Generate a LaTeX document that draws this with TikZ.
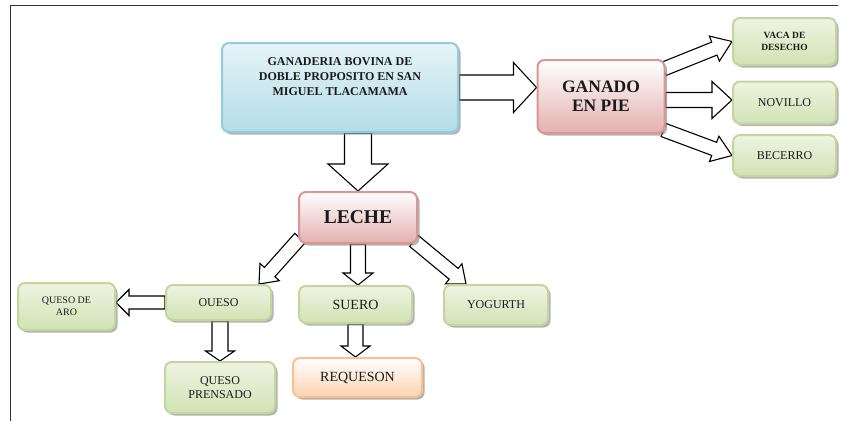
\documentclass[tikz,border=0pt]{standalone}
\usepackage{fontspec}
\setmainfont{Liberation Serif}
\usetikzlibrary{calc,shadows,backgrounds}

\definecolor{blueborder}{HTML}{93CDDD}
\definecolor{bluetop}{HTML}{E6F4F8}
\definecolor{bluebot}{HTML}{B4DCE7}
\definecolor{pinkborder}{HTML}{D99694}
\definecolor{pinktop}{HTML}{FFFFFF}
\definecolor{pinkbot}{HTML}{E3B0AF}
\definecolor{greenborder}{HTML}{C3D69B}
\definecolor{greentop}{HTML}{EEF4E2}
\definecolor{greenbot}{HTML}{D2E2B4}
\definecolor{orangeborder}{HTML}{FAC090}
\definecolor{orangetop}{HTML}{FFFFFF}
\definecolor{orangebot}{HTML}{FCD3B0}
\definecolor{textcol}{HTML}{1A1A1A}
\definecolor{framecol}{HTML}{333333}

\newcommand\blockarr[5]{% tail, tip, shaft half width, head half width, head length
  \path ($(#2)!#5!(#1)$) coordinate (bah);
  \draw[blockarrow] ($(#1)!#3!90:(#2)$) -- ($(bah)!#3!90:(#2)$) -- ($(bah)!#4!90:(#2)$)
     -- (#2) -- ($(bah)!#4!-90:(#2)$) -- ($(bah)!#3!-90:(#2)$) -- ($(#1)!#3!-90:(#2)$) -- cycle;
}

\tikzset{
  boxbase/.style={rounded corners=7pt, line width=2pt, text=textcol, inner sep=2pt, align=center,
    drop shadow={shadow xshift=2.5pt, shadow yshift=-2.5pt, fill=black!50, opacity=.6}},
  bluebox/.style={boxbase, draw=blueborder, top color=bluetop, bottom color=bluebot},
  pinkbox/.style={boxbase, draw=pinkborder, top color=pinktop, bottom color=pinkbot},
  greenbox/.style={boxbase, draw=greenborder, top color=greentop, bottom color=greenbot},
  orangebox/.style={boxbase, draw=orangeborder, top color=orangetop, bottom color=orangebot},
  blockarrow/.style={draw=black, fill=white, line width=1.1pt, line join=miter},
  frameline/.style={draw=framecol, line width=1.5pt},
}

\begin{document}
\begin{tikzpicture}[x=1pt,y=-1pt]
\useasboundingbox (0,0) rectangle (841,421);

\draw[frameline] (838,5.5) -- (10.5,5.5) -- (10.5,421);

\node[bluebox, minimum width=236pt, minimum height=89pt,
      font=\fontsize{12}{15}\selectfont\bfseries] (main) at (340,87.5)
  {\raisebox{10pt}[\height][\depth]{\begin{tabular}{@{}c@{}}GANADERIA BOVINA DE\\DOBLE PROPOSITO EN SAN\\MIGUEL TLACAMAMA\end{tabular}}};

\node[pinkbox, minimum width=127pt, minimum height=73pt,
      font=\fontsize{17.5}{19}\selectfont\bfseries] (ganado) at (601,96.5) {GANADO\\EN PIE};

\node[greenbox, minimum width=103pt, minimum height=47pt,
      font=\fontsize{9.5}{12}\selectfont\bfseries] (vaca) at (784.5,41.5) {VACA DE\\DESECHO};
\node[greenbox, minimum width=103pt, minimum height=42pt,
      font=\fontsize{12}{14}\selectfont] (novillo) at (784.5,102.5) {NOVILLO};
\node[greenbox, minimum width=103pt, minimum height=41pt,
      font=\fontsize{12}{14}\selectfont] (becerro) at (784.5,155.5) {BECERRO};

\node[pinkbox, minimum width=118pt, minimum height=51pt,
      font=\fontsize{19.5}{21}\selectfont\bfseries] (leche) at (358,217.5) {LECHE};

\node[greenbox, minimum width=105pt, minimum height=35pt,
      font=\fontsize{12}{14}\selectfont] (oueso) at (218.5,302.5) {OUESO};
\node[greenbox, minimum width=97pt, minimum height=47pt,
      font=\fontsize{10}{12}\selectfont] (aro) at (66.5,306.5) {QUESO DE\\ARO};
\node[greenbox, minimum width=113pt, minimum height=37pt,
      font=\fontsize{14}{16}\selectfont] (suero) at (355.5,304.5) {SUERO};
\node[greenbox, minimum width=104pt, minimum height=40pt,
      font=\fontsize{12}{14}\selectfont] (yogurth) at (496,305) {YOGURTH};
\node[greenbox, minimum width=110pt, minimum height=51pt,
      font=\fontsize{12}{14}\selectfont] (prensado) at (220,387.5) {QUESO\\PRENSADO};
\node[orangebox, minimum width=129pt, minimum height=39pt,
      font=\fontsize{14}{16}\selectfont] (requeson) at (357.5,377.5) {REQUESON};

\begin{scope}[on background layer]
  % main -> ganado
  \coordinate (a1s) at (main.east);
  \coordinate (a1e) at (main.east -| ganado.west);
  \blockarr{a1s}{a1e}{12.5pt}{25pt}{23pt}
  % main -> leche
  \coordinate (a2s) at (leche.north |- main.south);
  \coordinate (a2e) at (leche.north);
  \blockarr{a2s}{a2e}{13.5pt}{30pt}{27pt}
  % ganado -> vaca
  \coordinate (a3s) at ($(ganado.north east)+(-2,10)$);
  \coordinate (a3e) at (vaca.west);
  \blockarr{a3s}{a3e}{7pt}{13.5pt}{19pt}
  % ganado -> novillo
  \coordinate (a4s) at ($(ganado.east)+(0,3.5)$);
  \coordinate (a4e) at (a4s -| novillo.west);
  \blockarr{a4s}{a4e}{7.5pt}{18.5pt}{20pt}
  % ganado -> becerro
  \coordinate (a5s) at ($(ganado.south east)+(-2,-4)$);
  \coordinate (a5e) at (becerro.west);
  \blockarr{a5s}{a5e}{7pt}{13.5pt}{19pt}
  % leche -> oueso
  \coordinate (a6s) at ($(leche.south west)+(2,-6)$);
  \coordinate (a6e) at ($(oueso.north east)+(-13,0)$);
  \blockarr{a6s}{a6e}{7pt}{13pt}{16pt}
  % leche -> suero
  \coordinate (a7s) at (leche.south);
  \coordinate (a7e) at (leche.south |- suero.north);
  \blockarr{a7s}{a7e}{7.5pt}{15pt}{12pt}
  % leche -> yogurth
  \coordinate (a8s) at ($(leche.south east)+(-4,-3)$);
  \coordinate (a8e) at ($(yogurth.north west)+(23,0)$);
  \blockarr{a8s}{a8e}{7pt}{13pt}{16pt}
  % oueso -> aro
  \coordinate (a9s) at (oueso.west);
  \coordinate (a9e) at (oueso.west -| aro.east);
  \blockarr{a9s}{a9e}{6.5pt}{13pt}{13pt}
  % oueso -> prensado
  \coordinate (a10s) at ($(oueso.south)+(1.5,0)$);
  \coordinate (a10e) at (a10s |- prensado.north);
  \blockarr{a10s}{a10e}{8pt}{14.5pt}{10pt}
  % suero -> requeson
  \coordinate (a11s) at (suero.south);
  \coordinate (a11e) at (suero.south |- requeson.north);
  \blockarr{a11s}{a11e}{7.5pt}{14.5pt}{11pt}
\end{scope}
\end{tikzpicture}
\end{document}
